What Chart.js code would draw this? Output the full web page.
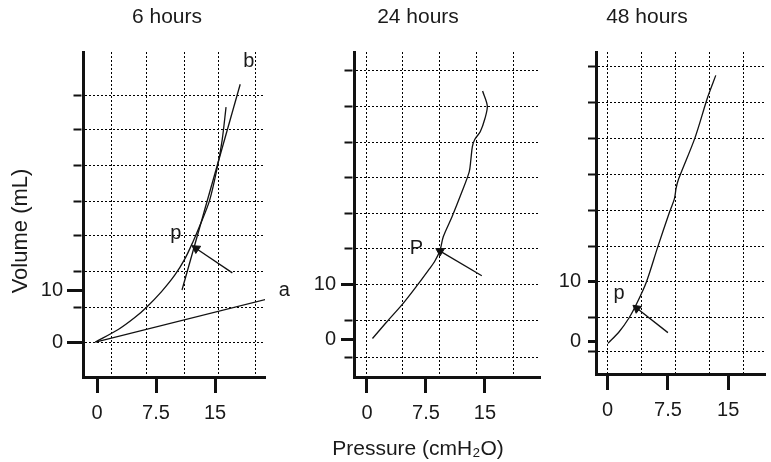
<!DOCTYPE html>
<html>
<head>
<meta charset="utf-8">
<script src="https://cdn.jsdelivr.net/npm/chart.js@4.4.1/dist/chart.umd.min.js"></script>
<style>
  body { margin: 0; background: #fff; }
  #wrap { position: relative; width: 771px; height: 462px; overflow: hidden; background: #fff; }
  canvas { position: absolute; top: 0; }
</style>
</head>
<body>
<div id="wrap">
  <canvas id="g6" width="334" height="462" style="left:0px"></canvas>
  <canvas id="g24" width="256" height="462" style="left:290px"></canvas>
  <canvas id="g48" width="248" height="462" style="left:523px"></canvas>
</div>
<script>
// labelled ticks, shared by the three panels
const pressureTicks = [0, 7.5, 15];
const volumeTicks = [0, 10];
const panelTitles = ['6 hours', '24 hours', '48 hours'];

// 6 hours: inflation curve, lines a and b, arrow to point p
const p6 = [-0.2, 2.7, 4.8, 6.3, 8.2, 9.9, 11.2, 12.2, 13.1, 14.3, 15.3, 15.9, 16.4];
const v6 = [0, 2.4, 4.7, 6.7, 9.7, 12.9, 16.1, 19.3, 22.5, 27.2, 33.7, 38.8, 45.2];
const lineA6P = [-0.2, 21.7], lineA6V = [0, 8.3];
const lineB6P = [10.8, 18.2], lineB6V = [10.0, 49.6];
const arrow6P = [17.2, 12.6], arrow6V = [13.3, 18.0];
const grid6P = [1.78, 6.35, 11.18, 15.5, 20.2];
const grid6V = [0, 6.73, 13.65, 20.4, 27.1, 34.0, 40.8, 47.5];
const text6 = ['a', 'b', 'p'], text6P = [23.8, 19.3, 10.0], text6V = [10.0, 54.0, 20.8];

// 24 hours
const p24 = [0.7, 2.5, 4.6, 6.4, 7.8, 8.6, 9.3, 9.7, 10.8, 12.0, 13.0, 13.2, 13.4, 13.7, 14.4, 15.0, 15.3, 14.7];
const v24 = [0.1, 3.1, 6.5, 9.8, 12.5, 14.1, 16.2, 18.6, 22.2, 26.5, 30.4, 32.5, 35.0, 36.3, 37.7, 40.1, 42.4, 45.1];
const arrow24P = [14.6, 9.3], arrow24V = [11.5, 16.0];
const grid24P = [0, 4.57, 9.28, 13.98, 18.68];
const grid24V = [-3.3, 3.3, 10, 16.4, 22.9, 29.3, 35.8, 42.2, 48.9];
const text24 = ['P'], text24P = [6.3], text24V = [16.5];

// 48 hours
const p48 = [0.04, 1.44, 2.64, 3.64, 4.84, 6.24, 7.65, 8.32, 8.52, 8.85, 10.84, 12.45, 13.45];
const v48 = [-0.4, 1.55, 3.8, 6.3, 9.9, 15.7, 21.3, 23.8, 25.5, 27.1, 33.8, 40.7, 44.3];
const arrow48P = [7.5, 3.64], arrow48V = [1.4, 5.45];
const grid48P = [0, 4.2, 8.4, 12.73, 16.93];
const grid48V = [-1.83, 4, 10, 15.8, 21.8, 27.8, 33.8, 39.8, 45.8];
const text48 = ['p'], text48P = [1.44], text48V = [8.0];

const FONT = '"Liberation Sans", Arial, Helvetica, sans-serif';
Chart.defaults.font.family = FONT;
Chart.defaults.font.size = 20;
Chart.defaults.color = '#1a1a1a';

const ink = '#111';
const dotted = [2, 2];
const none = 'rgba(0,0,0,0)';

function pts(P, V) { return P.map((p, i) => ({x: p, y: V[i]})); }
function has(list, v) { return list.some(t => Math.abs(t - v) < 1e-6); }

function curve(P, V, tension) {
  return { data: pts(P, V), showLine: true, borderColor: ink, borderWidth: 1.3,
           pointRadius: 0, tension: tension, fill: false };
}

function arrow(P, V) {
  return {
    data: pts(P, V), showLine: true, borderColor: ink, borderWidth: 1.3,
    pointRadius: [0, 5], pointStyle: 'triangle',
    pointBackgroundColor: ink, pointBorderColor: ink, pointBorderWidth: 1,
    pointRotation: c => {
      const sx = c.chart.scales.x, sy = c.chart.scales.y;
      const dx = sx.getPixelForValue(P[1]) - sx.getPixelForValue(P[0]);
      const dy = sy.getPixelForValue(V[1]) - sy.getPixelForValue(V[0]);
      return Math.atan2(dx, -dy) * 180 / Math.PI;
    }
  };
}

function marks(T, P, V) { return T.map((t, i) => ({text: t, x: P[i], y: V[i]})); }

// text labels a, b, p placed in data units
const markText = {
  id: 'markText',
  afterDatasetsDraw(chart, args, opts) {
    const {ctx, scales: {x, y}} = chart;
    ctx.save();
    ctx.font = '20px ' + FONT;
    ctx.fillStyle = '#1a1a1a';
    ctx.textAlign = 'center';
    ctx.textBaseline = 'middle';
    (opts.items || []).forEach(m => ctx.fillText(m.text, x.getPixelForValue(m.x), y.getPixelForValue(m.y)));
    ctx.restore();
  }
};

function scaleOpts(axis, min, max, labels, grid, s) {
  const vals = [...new Set(labels.concat(grid))].sort((a, b) => a - b);
  const horiz = axis === 'x';
  const len = horiz ? 16 : s.majorLen;
  const isLab = c => c.tick ? has(labels, c.tick.value) : false;
  const isGrid = c => c.tick ? has(grid, c.tick.value) : false;
  return {
    type: 'linear',
    position: horiz ? 'bottom' : 'left',
    min: min, max: max,
    afterBuildTicks: sc => { sc.ticks = vals.map(v => ({value: v})); },
    afterFit: sc => { if (horiz) sc.height = s.xHeight; else sc.width = s.yWidth; },
    border: { display: true, color: ink, width: 3, dash: dotted },
    grid: {
      drawOnChartArea: true,
      drawTicks: true,
      tickLength: len,
      lineWidth: 1,
      color: c => isGrid(c) ? '#000' : none,
      tickColor: c => (isLab(c) || !horiz) ? ink : none,
      tickWidth: c => isLab(c) ? 3 : 2,
      tickBorderDash: c => (!horiz && !isLab(c) && s.minorLen < len) ? [s.minorLen, len - s.minorLen - 1.5] : [],
      tickBorderDashOffset: c => (!horiz && !isLab(c) && s.minorLen < len) ? s.minorLen : 0
    },
    ticks: {
      autoSkip: false,
      maxRotation: 0,
      padding: horiz ? 8 : s.yPad,
      color: '#1a1a1a',
      callback: v => has(labels, v) ? String(v) : ''
    }
  };
}

function panel(id, s) {
  const scales = {
    x: scaleOpts('x', s.xMin, s.xMax, pressureTicks, s.gridP, s),
    y: scaleOpts('y', s.yMin, s.yMax, volumeTicks, s.gridV, s)
  };
  if (s.padRight) {
    // empty right-hand axis: keeps room for labels but lets the titles span the whole canvas
    scales.r = { type: 'linear', position: 'right', display: true,
                 grid: { display: false }, border: { display: false }, ticks: { display: false },
                 afterFit: sc => { sc.width = s.padRight; } };
  }
  return new Chart(document.getElementById(id), {
    type: 'scatter',
    data: { datasets: s.datasets },
    plugins: [markText],
    options: {
      responsive: false,
      animation: false,
      devicePixelRatio: 1,
      layout: { padding: 0 },
      scales: scales,
      plugins: {
        legend: { display: false },
        tooltip: { enabled: false },
        title: { display: true, text: s.title, color: '#1a1a1a',
                 font: { size: 21, weight: 'normal' }, padding: { top: 4.4, bottom: 22.4 } },
        subtitle: s.subtitle || { display: false },
        markText: { items: s.marks }
      }
    }
  });
}

panel('g6', {
  title: panelTitles[0],
  subtitle: { display: true, text: 'Volume (mL)', position: 'left', color: '#1a1a1a',
              font: { size: 22, weight: 'normal' }, padding: { top: 8, bottom: 2 } },
  xMin: -1.78, xMax: 21.35, yMin: -6.73, yMax: 55.8,
  gridP: grid6P, gridV: grid6V,
  yWidth: 46.6, xHeight: 85, padRight: 69, majorLen: 16, minorLen: 8, yPad: 4,
  datasets: [curve(p6, v6, 0.3), curve(lineA6P, lineA6V, 0), curve(lineB6P, lineB6V, 0), arrow(arrow6P, arrow6V)],
  marks: marks(text6, text6P, text6V)
});

panel('g24', {
  title: panelTitles[1],
  subtitle: { display: true, text: 'Pressure (cmH\u2082O)', position: 'bottom', color: '#1a1a1a',
              font: { size: 21, weight: 'normal' }, padding: { top: 6, bottom: 0.4 } },
  xMin: -1.65, xMax: 22.0, yMin: -6.9, yMax: 52.2,
  gridP: grid24P, gridV: grid24V,
  yWidth: 64, xHeight: 53.4, padRight: 6, majorLen: 13, minorLen: 8, yPad: 5,
  datasets: [curve(p24, v24, 0.3), arrow(arrow24P, arrow24V)],
  marks: marks(text24, text24P, text24V)
});

panel('g48', {
  title: panelTitles[2],
  xMin: -1.44, xMax: 19.57, yMin: -5.5, yMax: 48.2,
  gridP: grid48P, gridV: grid48V,
  yWidth: 73, xHeight: 88, padRight: 0, majorLen: 8, minorLen: 8, yPad: 7,
  datasets: [curve(p48, v48, 0.3), arrow(arrow48P, arrow48V)],
  marks: marks(text48, text48P, text48V)
});
</script>
</body>
</html>
